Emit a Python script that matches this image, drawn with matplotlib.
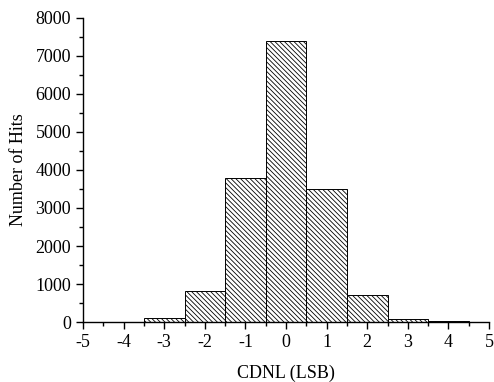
import numpy as np
import matplotlib.pyplot as plt
from matplotlib.ticker import MultipleLocator

# Histogram of CDNL, one bin per LSB
bin_centers = [-4, -3, -2, -1, 0, 1, 2, 3, 4]
hits = [12, 100, 815, 3790, 7400, 3510, 700, 80, 15]

plt.rcParams["font.family"] = ["Liberation Serif", "DejaVu Serif"]
plt.rcParams["axes.unicode_minus"] = False
plt.rcParams["hatch.linewidth"] = 0.6

fig = plt.figure(figsize=(4.94, 3.82), dpi=100)
ax = fig.add_axes([0.168, 0.157, 0.822, 0.796])

ax.bar(bin_centers, hits, width=1.0, color="white", edgecolor="black",
       linewidth=0.7, hatch="\\" * 7)

ax.set_xlim(-5, 5)
ax.set_ylim(0, 8000)
ax.xaxis.set_major_locator(MultipleLocator(1))
ax.xaxis.set_minor_locator(MultipleLocator(0.5))
ax.yaxis.set_major_locator(MultipleLocator(1000))
ax.yaxis.set_minor_locator(MultipleLocator(500))

for side in ("top", "right"):
    ax.spines[side].set_visible(False)
for side in ("left", "bottom"):
    ax.spines[side].set_linewidth(1.0)

ax.tick_params(which="major", direction="out", length=5, width=1, labelsize=13)
ax.tick_params(which="minor", direction="out", length=3, width=1)

ax.set_xlabel("CDNL (LSB)", fontsize=13, labelpad=10)
ax.set_ylabel("Number of Hits", fontsize=13, labelpad=6)

fig.savefig("out.png", dpi=100)
